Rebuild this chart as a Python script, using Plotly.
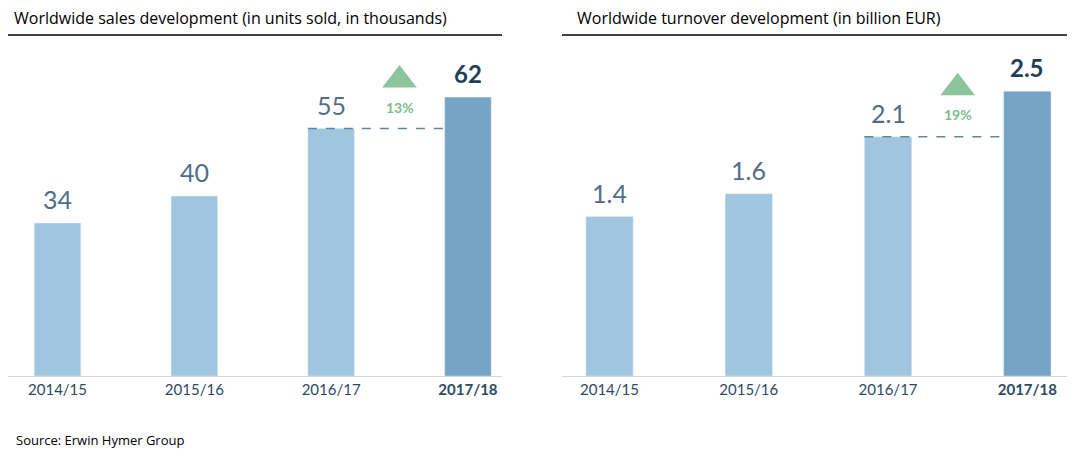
import plotly.graph_objects as gx

years = ["2014/15", "2015/16", "2016/17", "<b>2017/18</b>"]
sales = [34, 40, 55, 62]
turnover = [1.4, 1.6, 2.1, 2.5]
W = 1075
H = 461
OFF = 8  # page margin of the browser

def px_x(p):
    return (p - OFF) / W

def px_y(p):
    return 1 - (p - OFF) / H

def add_panel(fig, values, labels, growth, tri_y, n, xdom, xrange, yrange):
    xa = "x" if n == 1 else "x2"
    ya = "y" if n == 1 else "y2"
    colors = ["#a0c6df", "#a0c6df", "#a0c6df", "#76a4c7"]
    fig.add_trace(gx.Bar(x=[0, 1, 2, 3], y=values, marker_color=colors, width=0.34,
                         xaxis=xa, yaxis=ya, showlegend=False))
    for i in range(3):
        fig.add_annotation(x=i, y=values[i], text=labels[i], showarrow=False, yshift=24,
                           xref=xa, yref=ya, font=dict(size=25, color="#4f6e86", family="Lato"))
    fig.add_annotation(x=3, y=values[3], text="<b>" + labels[3] + "</b>", showarrow=False, yshift=24,
                       xref=xa, yref=ya, font=dict(size=24, color="#1f3d5c", family="Lato"))
    # dashed guide line from previous year
    fig.add_shape(type="line", x0=1.83, x1=2.83, y0=values[2], y1=values[2], xref=xa, yref=ya,
                  line=dict(color="#5b86ab", width=1.5, dash="dash"))
    fig.add_trace(gx.Scatter(x=[2.5], y=[tri_y], mode="markers", xaxis=xa, yaxis=ya,
                             marker=dict(symbol="triangle-up", size=30, color="#8cc49c"), showlegend=False))
    fig.add_annotation(x=2.5, y=tri_y, text="<b>" + growth + "</b>", showarrow=False, yshift=-27,
                       xref=xa, yref=ya, font=dict(size=14, color="#7dbb8e", family="Lato"))
    axis = dict(domain=xdom, range=xrange, tickvals=[0, 1, 2, 3], ticktext=years, showgrid=False,
                zeroline=False, showline=True, linecolor="#cfd8df", ticks="",
                tickfont=dict(size=15, color="#2d4a63", family="Lato"))
    yaxis = dict(domain=[px_y(376), px_y(40)], range=yrange, visible=False, anchor=xa)
    if n == 1:
        fig.update_layout(xaxis=axis, yaxis=yaxis)
    else:
        axis["anchor"] = "y2"
        fig.update_layout(xaxis2=axis, yaxis2=yaxis)

def setup():
    fig = gx.Figure()
    add_panel(fig, sales, ["34", "40", "55", "62"], "13%", 65.8, 1,
              [0, px_x(502)], [-0.362, 3.249], [0, 74.7])
    add_panel(fig, turnover, ["1.4", "1.6", "2.1", "2.5"], "19%", 2.53, 2,
              [px_x(562), px_x(1068)], [-0.341, 3.292], [0, 2.95])
    fig.add_annotation(x=px_x(12), y=px_y(18), xref="paper", yref="paper", xanchor="left", yanchor="middle",
                       showarrow=False, text="Worldwide sales development (in units sold, in thousands)",
                       font=dict(size=16, color="black", family="Open Sans"))
    fig.add_annotation(x=px_x(575), y=px_y(18), xref="paper", yref="paper", xanchor="left", yanchor="middle",
                       showarrow=False, text="Worldwide turnover development (in billion EUR)",
                       font=dict(size=16, color="black", family="Open Sans"))
    fig.add_shape(type="line", x0=0, x1=px_x(502), y0=px_y(35), y1=px_y(35), xref="paper", yref="paper",
                  line=dict(color="black", width=1.5))
    fig.add_shape(type="line", x0=px_x(562), x1=px_x(1068), y0=px_y(35), y1=px_y(35), xref="paper", yref="paper",
                  line=dict(color="black", width=1.5))
    fig.add_annotation(x=px_x(14), y=px_y(440), xref="paper", yref="paper", xanchor="left", yanchor="middle",
                       showarrow=False, text="Source: Erwin Hymer Group",
                       font=dict(size=13, color="black", family="Open Sans"))
    fig.update_layout(width=W, height=H, margin=dict(l=0, r=0, t=0, b=0),
                      plot_bgcolor="white", paper_bgcolor="white")
    fig.write_html("out.html")

if __name__ == '__main__':
    setup()
